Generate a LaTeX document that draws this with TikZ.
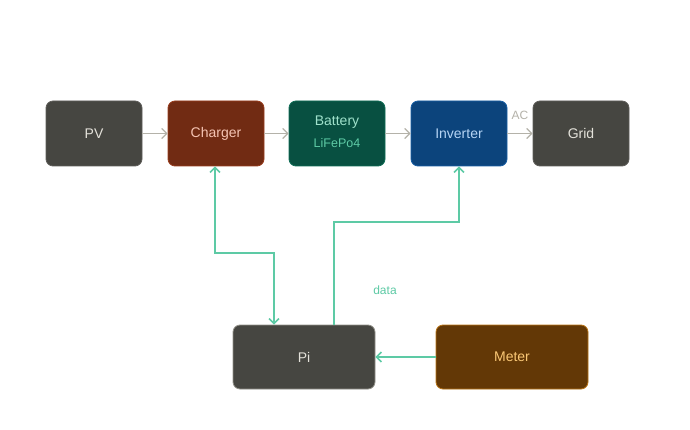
\documentclass[tikz,border=0pt]{standalone}
\usepackage{fontspec}
\setmainfont{Liberation Sans}
\usetikzlibrary{arrows.meta}
\definecolor{grayfill}{HTML}{464641}
\definecolor{graydraw}{HTML}{5F5E5A}
\definecolor{graytext}{HTML}{E4E2DA}
\definecolor{chfill}{HTML}{712B13}
\definecolor{chdraw}{HTML}{993C1D}
\definecolor{chtext}{HTML}{F5C4B3}
\definecolor{btfill}{HTML}{085041}
\definecolor{btdraw}{HTML}{0F6E56}
\definecolor{bttext}{HTML}{9FE1CB}
\definecolor{btsub}{HTML}{5DCAA5}
\definecolor{invfill}{HTML}{0C447C}
\definecolor{invdraw}{HTML}{185FA5}
\definecolor{invtext}{HTML}{B5D4F4}
\definecolor{mtfill}{HTML}{633806}
\definecolor{mtdraw}{HTML}{BA7517}
\definecolor{mttext}{HTML}{FAC775}
\definecolor{green}{HTML}{5DCAA5}
\definecolor{arrowgray}{HTML}{B4B2A9}
\tikzset{
  mytip/.tip={Straight Barb[length=5pt,width=10pt]},
  box/.style={rounded corners=7pt, line width=0.8pt, inner sep=0pt, font=\fontsize{14}{16}\selectfont},
  graybox/.style={box, fill=grayfill, draw=graydraw, text=graytext},
  flow/.style={draw=arrowgray, line width=1.3pt, -{mytip}},
  ctl/.style={draw=green, line width=1.5pt},
}
\begin{document}
\begin{tikzpicture}[x=1pt,y=-1pt]
\useasboundingbox (0,0) rectangle (690,430);
\fill[white] (0,0) rectangle (690,430);
\node[graybox, minimum width=96pt, minimum height=65pt] (pv) at (94,133.5) {PV};
\node[box, fill=chfill, draw=chdraw, text=chtext, minimum width=96pt, minimum height=65pt] (ch) at (216,133.5) {Charger};
\node[box, fill=btfill, draw=btdraw, minimum width=96pt, minimum height=65pt] (bt) at (337,133.5) {};
\node[text=bttext, font=\fontsize{14}{16}\selectfont] (btl) at (337,122) {Battery};
\node[text=btsub, font=\fontsize{12.5}{14}\selectfont] (bts) at (337,143) {LiFePo4};
\node[box, fill=invfill, draw=invdraw, text=invtext, minimum width=96pt, minimum height=65pt] (inv) at (459,133.5) {Inverter};
\node[graybox, minimum width=96pt, minimum height=65pt] (grid) at (581,133.5) {Grid};
\node[graybox, draw=arrowgray!70!grayfill, minimum width=142pt, minimum height=64pt] (pi) at (304,357) {Pi};
\node[box, fill=mtfill, draw=mtdraw, text=mttext, minimum width=152pt, minimum height=64pt] (mt) at (512,357) {Meter};

\draw[flow] (pv) -- (ch);
\draw[flow] (ch) -- (bt);
\draw[flow] (bt) -- (inv);
\draw[flow] (inv) -- (grid);
\node[text=arrowgray, font=\fontsize{12}{14}\selectfont] (ac) at (520,115) {AC};

\coordinate (c1) at (215,253);
\coordinate (c2) at (274,253);
\coordinate (d1) at (334,222);
\coordinate (d2) at (459,222);
\draw[ctl, {mytip}-{mytip}] (ch.south -| c1) |- (c2) -- (pi.north -| c2);
\draw[ctl, -{mytip}] (pi.north -| d1) |- (d2) -- (inv.south -| d2);
\draw[ctl, -{mytip}] (mt) -- (pi);
\node[text=green, font=\fontsize{12}{14}\selectfont] (data) at (385,290) {data};
\end{tikzpicture}
\end{document}
